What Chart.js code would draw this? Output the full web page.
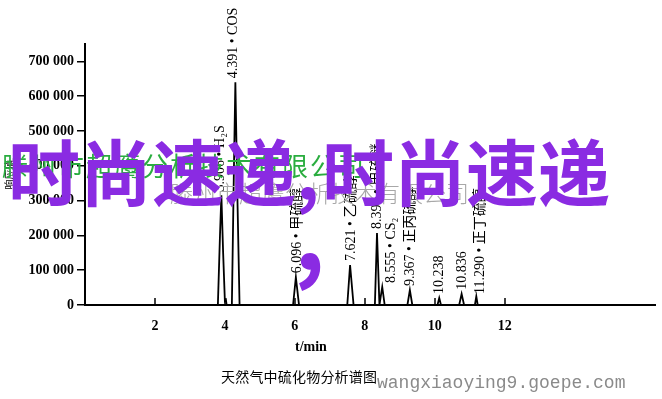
<!DOCTYPE html>
<html>
<head>
<meta charset="utf-8">
<script src="https://cdn.jsdelivr.net/npm/chart.js@4.4.1/dist/chart.umd.min.js"></script>
<style>
  body { margin: 0; background: #fff; }
  #wrap { position: relative; width: 662px; height: 399px; overflow: hidden; }
  #wrap canvas { position: absolute; left: 0; top: 0; }
  .txt { position: absolute; white-space: nowrap; line-height: 1; }
  .mark { font-family: "Noto Sans CJK SC", sans-serif; color: #8a2be2; font-weight: 700; font-size: 72px; }
</style>
</head>
<body>
<div id="wrap">
  <canvas id="chart" width="662" height="399"></canvas>
  <div class="txt" style="left:295px;top:339px;font:bold 14px 'Liberation Serif',serif;">t/min</div>
  <div class="txt" style="left:221px;top:366px;font:14px 'Noto Sans CJK SC',sans-serif;letter-spacing:0.2px;">天然气中硫化物分析谱图</div>
  <div class="txt" style="left:2px;top:146px;font:26px 'Noto Sans CJK SC',sans-serif;color:#2aad3f;letter-spacing:2px;">滕州市超鹰分析技术有限公司</div>
  <div class="txt" style="left:170px;top:175px;font:300 23px 'Noto Sans CJK SC',sans-serif;color:#a8a8a8;">滕州市超鹰分析技术有限公司</div>
  <div class="txt mark" style="left:8px;top:133px;">时尚速递,</div>
  <div class="txt mark" style="left:322px;top:133px;">时尚速递</div>
  <div class="txt mark" style="left:294px;top:181px;font-size:96px;">,</div>
  <div class="txt" style="left:377px;top:373px;font:18px 'Liberation Mono',monospace;color:#8a8a8a;">wangxiaoying9.goepe.com</div>
</div>
<script>
// chromatogram trace (time in min, response)
const traceT = [0, 3.80, 3.86, 3.90, 3.95, 4.00, 4.03, 4.05, 4.20, 4.26, 4.30, 4.36, 4.42,
  5.95, 6.03, 6.12, 7.50, 7.58, 7.68, 8.29, 8.35, 8.42, 8.45, 8.50, 8.57,
  9.22, 9.29, 9.36, 10.08, 10.13, 10.18, 10.70, 10.77, 10.84, 11.15, 11.19, 11.23, 16.3];
const traceY = [0, 0, 200000, 315000, 150000, 12000, 15000, 0, 0, 400000, 640000, 300000, 0,
  0, 80000, 0, 0, 115000, 0, 0, 207000, 0, 20000, 52000, 0,
  0, 43000, 0, 0, 20000, 0, 0, 32000, 0, 0, 25000, 0, 0];

// peak annotations: text, time where the label stands, response just under it
const peakText = ["3.906 • H₂S", "4.391 • COS", "6.096 • 甲硫醇", "7.621 • 乙硫醇", "8.397 • 甲硫醚",
  "8.555 • CS₂", "9.367 • 正丙硫醇", "10.238", "10.836", "11.290 • 正丁硫醇"];
const labelT = [3.86, 4.23, 6.06, 7.63, 8.37, 8.77, 9.31, 10.14, 10.80, 11.31];
const labelY = [315000, 640000, 80000, 115000, 207000, 52000, 43000, 20000, 32000, 20000];

const xTicks = [2, 4, 6, 8, 10, 12];
const yTicks = [0, 100000, 200000, 300000, 400000, 500000, 600000, 700000];

const points = traceT.map((t, i) => ({ x: t, y: traceY[i] }));

// ticks on the time axis point up into the plot
const innerTicks = {
  id: "innerTicks",
  afterDraw(chart) {
    const ctx = chart.ctx;
    const x = chart.scales.x;
    const y0 = chart.chartArea.bottom;
    ctx.save();
    ctx.strokeStyle = "#000";
    ctx.lineWidth = 1.5;
    xTicks.forEach(v => {
      const px = Math.round(x.getPixelForValue(v));
      ctx.beginPath();
      ctx.moveTo(px, y0);
      ctx.lineTo(px, y0 - 7);
      ctx.stroke();
    });
    ctx.restore();
  }
};

const peakLabels = {
  id: "peakLabels",
  afterDatasetsDraw(chart) {
    const ctx = chart.ctx;
    const x = chart.scales.x, y = chart.scales.y;
    ctx.save();
    ctx.fillStyle = "#000";
    ctx.font = '14px "Liberation Serif", "Noto Sans CJK SC", serif';
    ctx.textAlign = "left";
    ctx.textBaseline = "middle";
    peakText.forEach((s, i) => {
      const px = x.getPixelForValue(labelT[i]);
      const py = y.getPixelForValue(labelY[i]) - 4;
      ctx.save();
      ctx.translate(px, py);
      ctx.rotate(-Math.PI / 2);
      ctx.fillText(s, 0, 0);
      ctx.restore();
    });
    ctx.restore();
  }
};

new Chart(document.getElementById("chart"), {
  type: "line",
  data: {
    datasets: [{
      data: points,
      borderColor: "#000",
      borderWidth: 1.8,
      pointRadius: 0,
      tension: 0,
      fill: false
    }]
  },
  options: {
    responsive: false,
    animation: false,
    layout: { padding: { top: 44, right: 7, left: 0, bottom: 0 } },
    plugins: { legend: { display: false }, tooltip: { enabled: false } },
    scales: {
      x: {
        type: "linear",
        min: 0,
        max: 16.3,
        afterBuildTicks: s => { s.ticks = xTicks.map(v => ({ value: v })); },
        afterFit: s => { s.height = 94; },
        grid: { display: false },
        border: { display: true, color: "#000", width: 2 },
        ticks: {
          padding: 5,
          color: "#000",
          font: { family: "Liberation Serif", size: 14, weight: "bold" }
        }
      },
      y: {
        min: 0,
        max: 750000,
        afterBuildTicks: s => { s.ticks = yTicks.map(v => ({ value: v })); },
        afterFit: s => { s.width = 85; },
        grid: { drawOnChartArea: false, drawTicks: true, tickLength: 8, color: "#000", lineWidth: 1.5 },
        border: { display: true, color: "#000", width: 2 },
        title: {
          display: true,
          text: "响应值",
          color: "#000",
          font: { family: "Noto Sans CJK SC", size: 10 },
          padding: { top: 3, bottom: 0 }
        },
        ticks: {
          padding: 3,
          color: "#000",
          font: { family: "Liberation Serif", size: 14, weight: "bold" },
          callback: v => v === 0 ? "0" : (v / 1000) + " 000"
        }
      }
    }
  },
  plugins: [innerTicks, peakLabels]
});
</script>
</body>
</html>
